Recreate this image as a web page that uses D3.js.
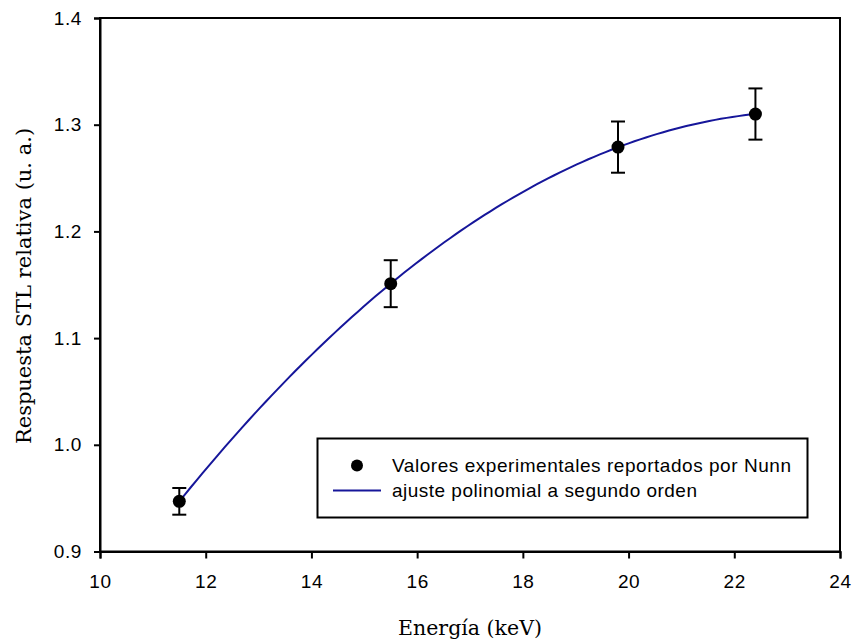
<!DOCTYPE html>
<html>
<head>
<meta charset="utf-8">
<script src="https://cdn.jsdelivr.net/npm/d3@7"></script>
<style>
  html, body { margin: 0; padding: 0; background: #fff; }
  svg { display: block; }
</style>
</head>
<body>
<svg id="chart" width="853" height="642"></svg>
<script>
// Measured STL response vs. photon energy (Nunn)
const energies = [11.5, 15.5, 19.8, 22.4];
const responses = [0.947, 1.151, 1.279, 1.310];
const errors = [0.0125, 0.022, 0.024, 0.024];

const xTicks = [10, 12, 14, 16, 18, 20, 22, 24];
const yTicks = [0.9, 1.0, 1.1, 1.2, 1.3, 1.4];

const legendLabels = ["Valores experimentales reportados por Nunn", "ajuste polinomial a segundo orden"];
const xTitle = "Energía (keV)";
const yTitle = "Respuesta STL relativa (u. a.)";

const fitColor = "#16169a";

const svg = d3.select("#chart");
const plotLeft = 100, plotRight = 840, plotTop = 18, plotBottom = 551.5;

const x = d3.scaleLinear().domain([10, 24]).range([plotLeft, plotRight]);
const y = d3.scaleLinear().domain([0.9, 1.4]).range([plotBottom, plotTop]);

// Least-squares second-order polynomial through the measured points
function quadFit(xs, ys) {
  const n = xs.length;
  const s = [0, 0, 0, 0, 0], t = [0, 0, 0];
  for (let i = 0; i < n; i++) {
    let p = 1;
    for (let k = 0; k < 5; k++) { s[k] += p; if (k < 3) t[k] += p * ys[i]; p *= xs[i]; }
  }
  const M = [[s[0], s[1], s[2], t[0]], [s[1], s[2], s[3], t[1]], [s[2], s[3], s[4], t[2]]];
  for (let c = 0; c < 3; c++) {
    for (let r = c + 1; r < 3; r++) {
      const f = M[r][c] / M[c][c];
      for (let k = c; k < 4; k++) M[r][k] -= f * M[c][k];
    }
  }
  const a = [0, 0, 0];
  for (let r = 2; r >= 0; r--) {
    let v = M[r][3];
    for (let k = r + 1; k < 3; k++) v -= M[r][k] * a[k];
    a[r] = v / M[r][r];
  }
  return e => a[0] + a[1] * e + a[2] * e * e;
}
const fit = quadFit(energies, responses);
const e0 = d3.min(energies), e1 = d3.max(energies);
const fitPts = d3.range(0, 101).map(i => {
  const e = e0 + (e1 - e0) * i / 100;
  return [e, fit(e)];
});

// Frame
svg.append("rect")
  .attr("x", plotLeft).attr("y", plotTop)
  .attr("width", plotRight - plotLeft).attr("height", plotBottom - plotTop)
  .attr("fill", "none").attr("stroke", "#000").attr("stroke-width", 2);

// Axes
const xAxis = svg.append("g")
  .attr("transform", `translate(0,${plotBottom})`)
  .call(d3.axisBottom(x).tickValues(xTicks).tickSize(7).tickPadding(16).tickFormat(d3.format("d")));
const yAxis = svg.append("g")
  .attr("transform", `translate(${plotLeft},0)`)
  .call(d3.axisLeft(y).tickValues(yTicks).tickSize(6).tickPadding(12).tickFormat(d3.format(".1f")));

[xAxis, yAxis].forEach(g => {
  g.select(".domain").attr("stroke", "#000").attr("stroke-width", 2);
  g.selectAll(".tick line").attr("stroke", "#000").attr("stroke-width", 2);
  g.selectAll(".tick text")
    .attr("fill", "#000")
    .style("font-family", "Arial, 'Liberation Sans', sans-serif")
    .style("font-size", "19px")
    .style("letter-spacing", "0.6px");
});

// Fit curve
svg.append("path")
  .datum(fitPts)
  .attr("fill", "none")
  .attr("stroke", fitColor)
  .attr("stroke-width", 2)
  .attr("d", d3.line().x(d => x(d[0])).y(d => y(d[1])));

// Error bars
const pts = energies.map((e, i) => ({ e, r: responses[i], err: errors[i] }));
const eb = svg.append("g").attr("stroke", "#000").attr("stroke-width", 2);
pts.forEach(p => {
  const cx = x(p.e);
  eb.append("line").attr("x1", cx).attr("x2", cx).attr("y1", y(p.r + p.err)).attr("y2", y(p.r - p.err));
  eb.append("line").attr("x1", cx - 7).attr("x2", cx + 7).attr("y1", y(p.r + p.err)).attr("y2", y(p.r + p.err));
  eb.append("line").attr("x1", cx - 7).attr("x2", cx + 7).attr("y1", y(p.r - p.err)).attr("y2", y(p.r - p.err));
});

// Markers
svg.append("g").selectAll("circle")
  .data(pts).join("circle")
  .attr("cx", d => x(d.e)).attr("cy", d => y(d.r))
  .attr("r", 6.5).attr("fill", "#000");

// Legend
const lg = svg.append("g");
lg.append("rect")
  .attr("x", 317.5).attr("y", 438.5).attr("width", 490).attr("height", 79)
  .attr("fill", "#fff").attr("stroke", "#000").attr("stroke-width", 2);
lg.append("circle").attr("cx", 357).attr("cy", 465.5).attr("r", 6).attr("fill", "#000");
lg.append("line").attr("x1", 333).attr("x2", 381).attr("y1", 490.5).attr("y2", 490.5)
  .attr("stroke", fitColor).attr("stroke-width", 2);
const legendWidths = [399, 305];
lg.selectAll("text").data(legendLabels).join("text")
  .attr("x", 392).attr("y", (d, i) => 472 + i * 25)
  .attr("textLength", (d, i) => legendWidths[i])
  .attr("lengthAdjust", "spacing")
  .style("font-family", "Arial, 'Liberation Sans', sans-serif")
  .style("font-size", "19px")
  .attr("fill", "#000")
  .text(d => d);

// Axis titles
svg.append("text")
  .attr("x", 470).attr("y", 635)
  .attr("text-anchor", "middle")
  .style("font-family", "'DejaVu Serif', serif")
  .style("font-size", "20.5px")
  .attr("fill", "#000")
  .text(xTitle);
svg.append("text")
  .attr("transform", "translate(31,286) rotate(-90)")
  .attr("text-anchor", "middle")
  .style("font-family", "'DejaVu Serif', serif")
  .style("font-size", "21px")
  .attr("fill", "#000")
  .text(yTitle);
</script>
</body>
</html>
